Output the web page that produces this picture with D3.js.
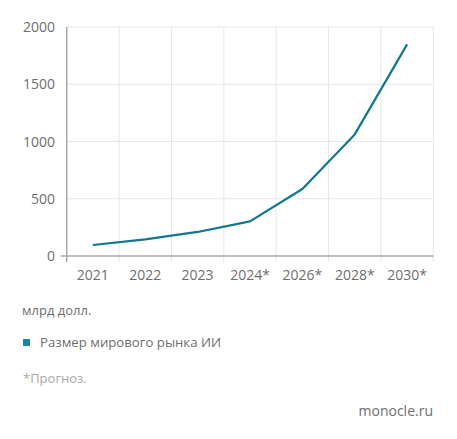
<!DOCTYPE html>
<html><head><meta charset="utf-8">
<script src="https://cdn.jsdelivr.net/npm/d3@7"></script>
<style>
body{margin:0;background:#fff;}
svg text{font-family:"Open Sans",Lato,sans-serif;}
</style></head>
<body><svg id="c" width="457" height="439"></svg>
<script>
const categories = ["2021","2022","2023","2024*","2026*","2028*","2030*"];
const values = [96, 145, 210, 302, 585, 1062, 1848];
const yTicks = [0, 500, 1000, 1500, 2000];
const unitLabel = "млрд долл.";
const seriesName = "Размер мирового рынка ИИ";
const footnote = "*Прогноз.";
const source = "monocle.ru";

const svg = d3.select("#c");
const L = 66.7, R = 433.3, T = 27, B = 256;
const x = d3.scaleBand().domain(categories).range([L, R]);
const y = d3.scaleLinear().domain([0, 2000]).range([B, T]);

// gridlines
const boundaries = categories.map(c => x(c)).concat([R]);
svg.append("g").selectAll("line").data(boundaries.slice(1)).join("line")
  .attr("x1", d => d).attr("x2", d => d).attr("y1", T).attr("y2", B + 6)
  .attr("stroke", "#e6e6e6").attr("stroke-width", 1);
svg.append("g").selectAll("line").data(yTicks.slice(1)).join("line")
  .attr("x1", L).attr("x2", R).attr("y1", d => y(d)).attr("y2", d => y(d))
  .attr("stroke", "#e6e6e6").attr("stroke-width", 1);

// axes lines
svg.append("line").attr("x1", L - 6).attr("x2", R).attr("y1", B).attr("y2", B)
  .attr("stroke", "#a8a8a8").attr("stroke-width", 1.5);
svg.append("line").attr("x1", L).attr("x2", L).attr("y1", T).attr("y2", B + 6)
  .attr("stroke", "#a8a8a8").attr("stroke-width", 1.5);

// y labels
svg.append("g").selectAll("text").data(yTicks).join("text")
  .attr("x", 55).attr("y", d => y(d) + 5).attr("text-anchor", "end")
  .attr("font-size", 14).attr("fill", "#6e6e6e").text(d => d);

// x labels
svg.append("g").selectAll("text").data(categories).join("text")
  .attr("x", d => x(d) + x.bandwidth() / 2).attr("y", 280).attr("text-anchor", "middle")
  .attr("font-size", 14).attr("fill", "#6e6e6e").text(d => d);

// line
const line = d3.line().x((d, i) => x(categories[i]) + x.bandwidth() / 2).y(d => y(d));
svg.append("path").datum(values).attr("d", line).attr("fill", "none")
  .attr("stroke", "#13778b").attr("stroke-width", 2.2).attr("stroke-linejoin", "round");

// texts
svg.append("text").attr("x", 22).attr("y", 315).attr("font-size", 13).attr("fill", "#6e6e6e").text(unitLabel);
svg.append("rect").attr("x", 23).attr("y", 339).attr("width", 7).attr("height", 7).attr("fill", "#1a86a6");
svg.append("text").attr("x", 40).attr("y", 347).attr("font-size", 13.2).attr("fill", "#6e6e6e").text(seriesName);
svg.append("text").attr("x", 23).attr("y", 383).attr("font-size", 13).attr("fill", "#a8a8a8").text(footnote);
svg.append("text").attr("x", 433).attr("y", 416).attr("text-anchor", "end").attr("font-size", 14).attr("fill", "#6e6e6e").text(source);
</script></body></html>
